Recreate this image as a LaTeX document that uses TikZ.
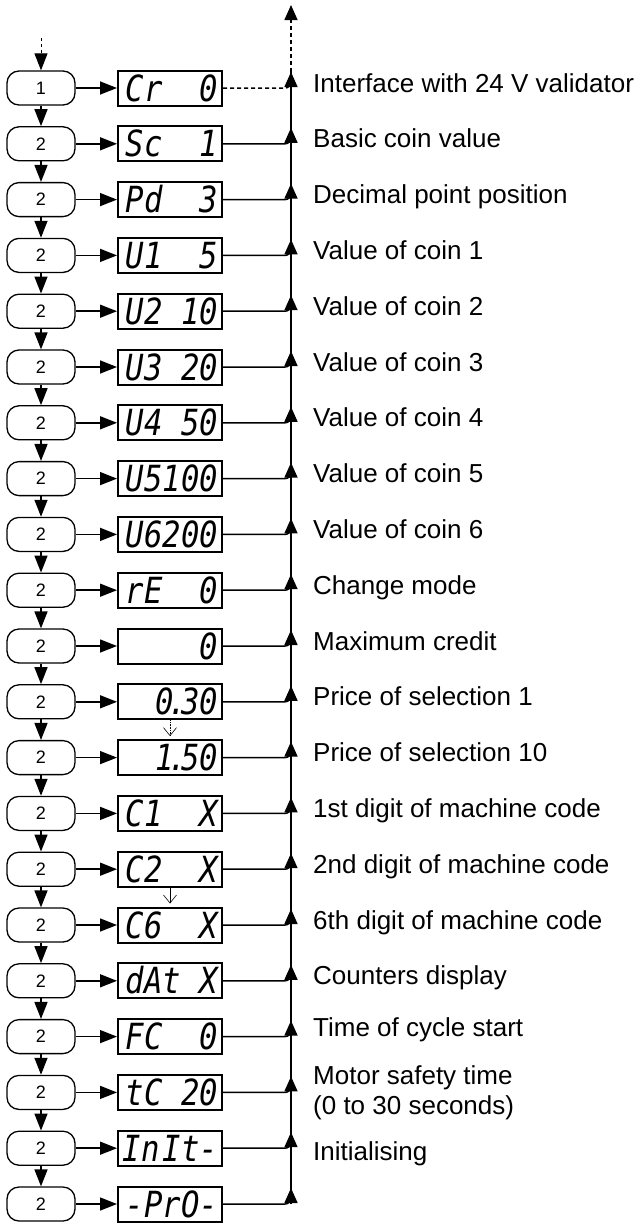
\documentclass[tikz,border=0pt]{standalone}
\usepackage{fontspec}
\setmainfont{Liberation Sans}
\newfontfamily\lcdfont[FakeStretch=0.85]{DejaVu Sans Mono}
\usetikzlibrary{arrows.meta}

% one empty digit cell of a display
\newcommand\cell{\phantom{0}}

\tikzset{
    keybox/.style={draw, line width=1.3pt, rounded corners=12pt, minimum width=68pt,
        minimum height=34pt, inner sep=0pt, font=\fontsize{18}{18}\selectfont},
    lcd/.style={draw, line width=2pt, minimum height=35pt, text width=96pt, inner xsep=4pt,
        inner ysep=0pt, text height=26pt, text depth=0pt, align=right,
        font=\fontsize{36}{36}\lcdfont\itshape},
    flow/.style={line width=1.5pt, -{Triangle[length=17pt,width=13pt]}},
    rise/.style={line width=1.5pt, -{Triangle[length=15pt,width=13pt]}},
    merge/.style={line width=1.5pt, rounded corners=6pt},
    bridge/.style={dash pattern=on 4pt off 3pt},
    plain/.style={solid},
    skip/.style={line width=0.6pt, -{Straight Barb[length=8pt,width=13pt]}},
    info/.style={anchor=base west, inner sep=0pt, align=left,
        font=\fontsize{26}{30}\selectfont},
}

\begin{document}
\begin{tikzpicture}[x=1pt, y=-1pt]
    \useasboundingbox (0,0) rectangle (640,1224);

    % keys, displays and their links to the bus
    \foreach \i/\k/\ls/\show in {1/1/bridge/Cr\cell\cell0, 2/2/plain/Sc\cell\cell1,
        3/2/plain/Pd\cell\cell3, 4/2/plain/U1\cell\cell5, 5/2/plain/U2\cell10,
        6/2/plain/U3\cell20, 7/2/plain/U4\cell50, 8/2/plain/U5100, 9/2/plain/U6200,
        10/2/plain/rE\cell\cell0, 11/2/plain/0,
        12/2/plain/0\kern-.15em.\kern-.15em30, 13/2/plain/1\kern-.15em.\kern-.15em50,
        14/2/plain/C1\cell\cell X, 15/2/plain/C2\cell\cell X, 16/2/plain/C6\cell\cell X,
        17/2/plain/dAt\cell X, 18/2/plain/FC\cell\cell0, 19/2/plain/tC\cell20,
        20/2/plain/In\kern3pt It-, 21/2/plain/-PrO-} {
        \pgfmathsetmacro\y{88+55.8*(\i-1)}
        \node[keybox] (k\i) at (41,\y) {\k};
        \node[lcd] (d\i) at (170,\y) {\show};
        \coordinate (m\i) at (291,\y);
        \coordinate (t\i) at (291,\y-16);
        \draw[flow] (k\i) -- (d\i);
        \draw[merge, \ls] (d\i.east) -| ([yshift=7pt]m\i);
        \draw[rise] (m\i) -- (t\i);
    }

    % steps down the keys
    \foreach \i [evaluate=\i as \j using int(\i+1)] in {1,...,20} {
        \draw[flow] (k\i) -- (k\j);
    }

    % entry and bus
    \coordinate (entry) at (41,38);
    \coordinate (exit) at (291,5);
    \draw[flow, line width=1pt, dash pattern=on 3pt off 3pt] (entry) -- (k1.north);
    \draw[line width=1.5pt] (m21) -- (t1);
    \draw[rise, bridge] (t1) -- (exit);

    % skipped steps
    \draw[skip, densely dotted] (d12.south) -- ([yshift=3pt]d13.north);
    \draw[skip] (d15.south) -- ([yshift=3pt]d16.north);

    % descriptions
    \foreach \i/\dy/\txt in {1/4/Interface with 24 V validator, 2/4/Basic coin value,
        3/4/Decimal point position, 4/4/Value of coin 1, 5/4/Value of coin 2,
        6/4/Value of coin 3, 7/4/Value of coin 4, 8/4/Value of coin 5,
        9/4/Value of coin 6, 10/4/Change mode, 11/4/Maximum credit,
        12/4/Price of selection 1, 13/4/Price of selection 10,
        14/4/1st digit of machine code, 15/4/2nd digit of machine code,
        16/4/6th digit of machine code, 17/4/Counters display,
        18/0/Time of cycle start, 19/22/{Motor safety time\\(0 to 30 seconds)},
        20/12/Initialising} {
        \node[info] (n\i) at ([shift={(22,\dy)}]m\i) {\txt};
    }
\end{tikzpicture}
\end{document}
